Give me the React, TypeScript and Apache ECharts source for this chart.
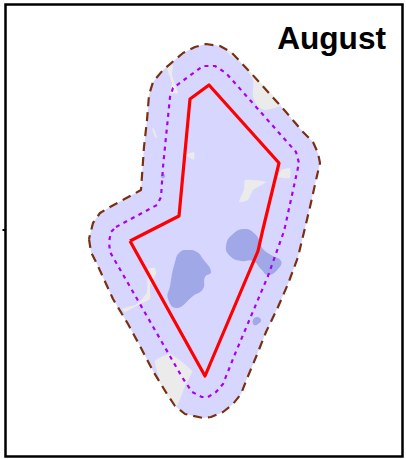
import React, { useEffect, useRef } from "react";
import * as echarts from "echarts";

type P = [number, number];

const monthLabel = "August";

const bufferOuter: P[] = [
  [89, 239], [91, 252], [97, 264], [113, 299], [128, 324], [140, 346], [153, 371], [167, 394], [175, 406], [185, 414],
  [203, 418], [211, 417], [223, 412], [233, 404], [241, 394], [246, 381], [256, 357], [266, 332], [278, 307], [288, 284],
  [298, 257], [304, 232], [310, 207], [316, 180], [320, 163], [318, 153], [313, 142], [303, 132], [286, 112], [268, 92],
  [250, 72], [231, 52], [220, 46], [206, 44], [195, 47], [183, 53], [163, 70], [153, 82], [149, 95], [147, 120],
  [144, 147], [141, 190], [132, 195], [110, 207], [100, 213], [93, 223], [89, 239],
];

const bufferInner: P[] = [
  [116, 227], [157, 205], [161, 197], [163, 167], [170, 97], [173, 88], [203, 66], [215, 66], [226, 73], [296, 152],
  [299, 163], [285, 227], [283, 234], [268, 276], [235, 354], [223, 384], [216, 392], [208, 397], [202, 397], [192, 392],
  [182, 377], [110, 252], [109, 242], [111, 232], [116, 227],
];

const boundary: P[] = [
  [130, 241], [179, 216], [190, 99], [209, 85], [279, 163], [263, 229], [258, 251], [205, 376], [130, 241],
];

const greyPatches: P[][] = [
  [[223, 47], [231, 53], [250, 72], [281, 105], [266, 110], [258, 107], [253, 97], [253, 80], [243, 65], [230, 55]],
  [[167, 68], [173, 65], [172, 75], [178, 93], [170, 93], [172, 83]],
  [[152, 128], [154, 129], [157, 138], [155, 137]],
  [[186, 155], [194, 152], [194, 160]],
  [[245, 180], [266, 182], [253, 190], [248, 200], [239, 202], [244, 190]],
  [[278, 177], [281, 170], [290, 168], [290, 178]],
  [[148, 269], [155, 268], [156, 274], [150, 286], [150, 299], [140, 304], [125, 312], [122, 309], [137, 304], [147, 292]],
  [[155, 361], [170, 354], [192, 371], [185, 386], [177, 406], [172, 402], [163, 389]],
];

const blueBlobs: P[][] = [
  [[175, 262], [180, 252], [188, 250], [197, 252], [203, 259], [211, 272], [205, 277], [203, 289], [193, 296], [177, 308], [168, 299], [170, 286]],
  [[226, 246], [233, 234], [245, 229], [255, 234], [260, 242], [263, 249], [271, 255], [281, 261], [278, 269], [268, 275], [261, 269], [253, 261], [241, 261], [230, 256]],
  [[253, 320], [257, 317], [261, 320], [258, 324], [254, 325]],
  [[161, 175], [164, 174], [165, 177], [162, 178]],
];

const leftTicks = [230];

const shapeSeries = (shapes: P[][], fill: string, smooth: number, z: number) => ({
  type: "custom",
  coordinateSystem: "cartesian2d",
  silent: true,
  z,
  data: shapes.map((_, i) => [i]),
  renderItem: (_p: any, api: any) => {
    const pts = shapes[api.value(0)].map((q) => api.coord(q));
    return { type: "polygon", shape: { points: pts, smooth }, style: { fill, stroke: "none" } };
  },
});

const lineSeries = (pts: P[], color: string, width: number, dash: number[] | "solid", z: number) => ({
  type: "line",
  data: pts,
  symbol: "none",
  silent: true,
  z,
  lineStyle: { color, width, type: dash, join: "round" },
});

export default function App() {
  const ref = useRef<HTMLDivElement>(null);
  useEffect(() => {
    const chart = echarts.init(ref.current!, undefined, { renderer: "svg" });
    chart.setOption({
      animation: false,
      backgroundColor: "#ffffff",
      title: {
        text: monthLabel,
        right: 15,
        top: 17,
        textStyle: { fontFamily: "Liberation Sans", fontWeight: "bold", fontSize: 31.6, color: "#000000" },
      },
      grid: { left: 5.5, top: 4.5, width: 397, height: 452, show: true, borderColor: "#000000", borderWidth: 2.5, backgroundColor: "#ffffff" },
      xAxis: { type: "value", min: 5.5, max: 402.5, show: false },
      yAxis: {
        type: "value",
        min: 4.5,
        max: 456.5,
        inverse: true,
        splitLine: { show: false },
        axisLine: { show: false },
        axisLabel: { show: false },
        axisTick: { show: true, customValues: leftTicks, length: 3, lineStyle: { color: "#000000", width: 2 } },
      },
      series: [
        shapeSeries([bufferOuter], "#d6d6ff", 0, 2),
        shapeSeries(greyPatches, "#ebebeb", 0.15, 3),
        shapeSeries(blueBlobs, "#a0a8e8", 0.5, 4),
        lineSeries(bufferOuter, "#7a3010", 2.2, [9, 6], 5),
        lineSeries(bufferInner, "#aa00ee", 2.2, [4, 4.5], 6),
        lineSeries(boundary, "#ff0000", 3.2, "solid", 7),
      ],
    });
    return () => chart.dispose();
  }, []);
  return <div ref={ref} style={{ position: "fixed", left: 0, top: 0, width: 406, height: 459 }} />;
}
